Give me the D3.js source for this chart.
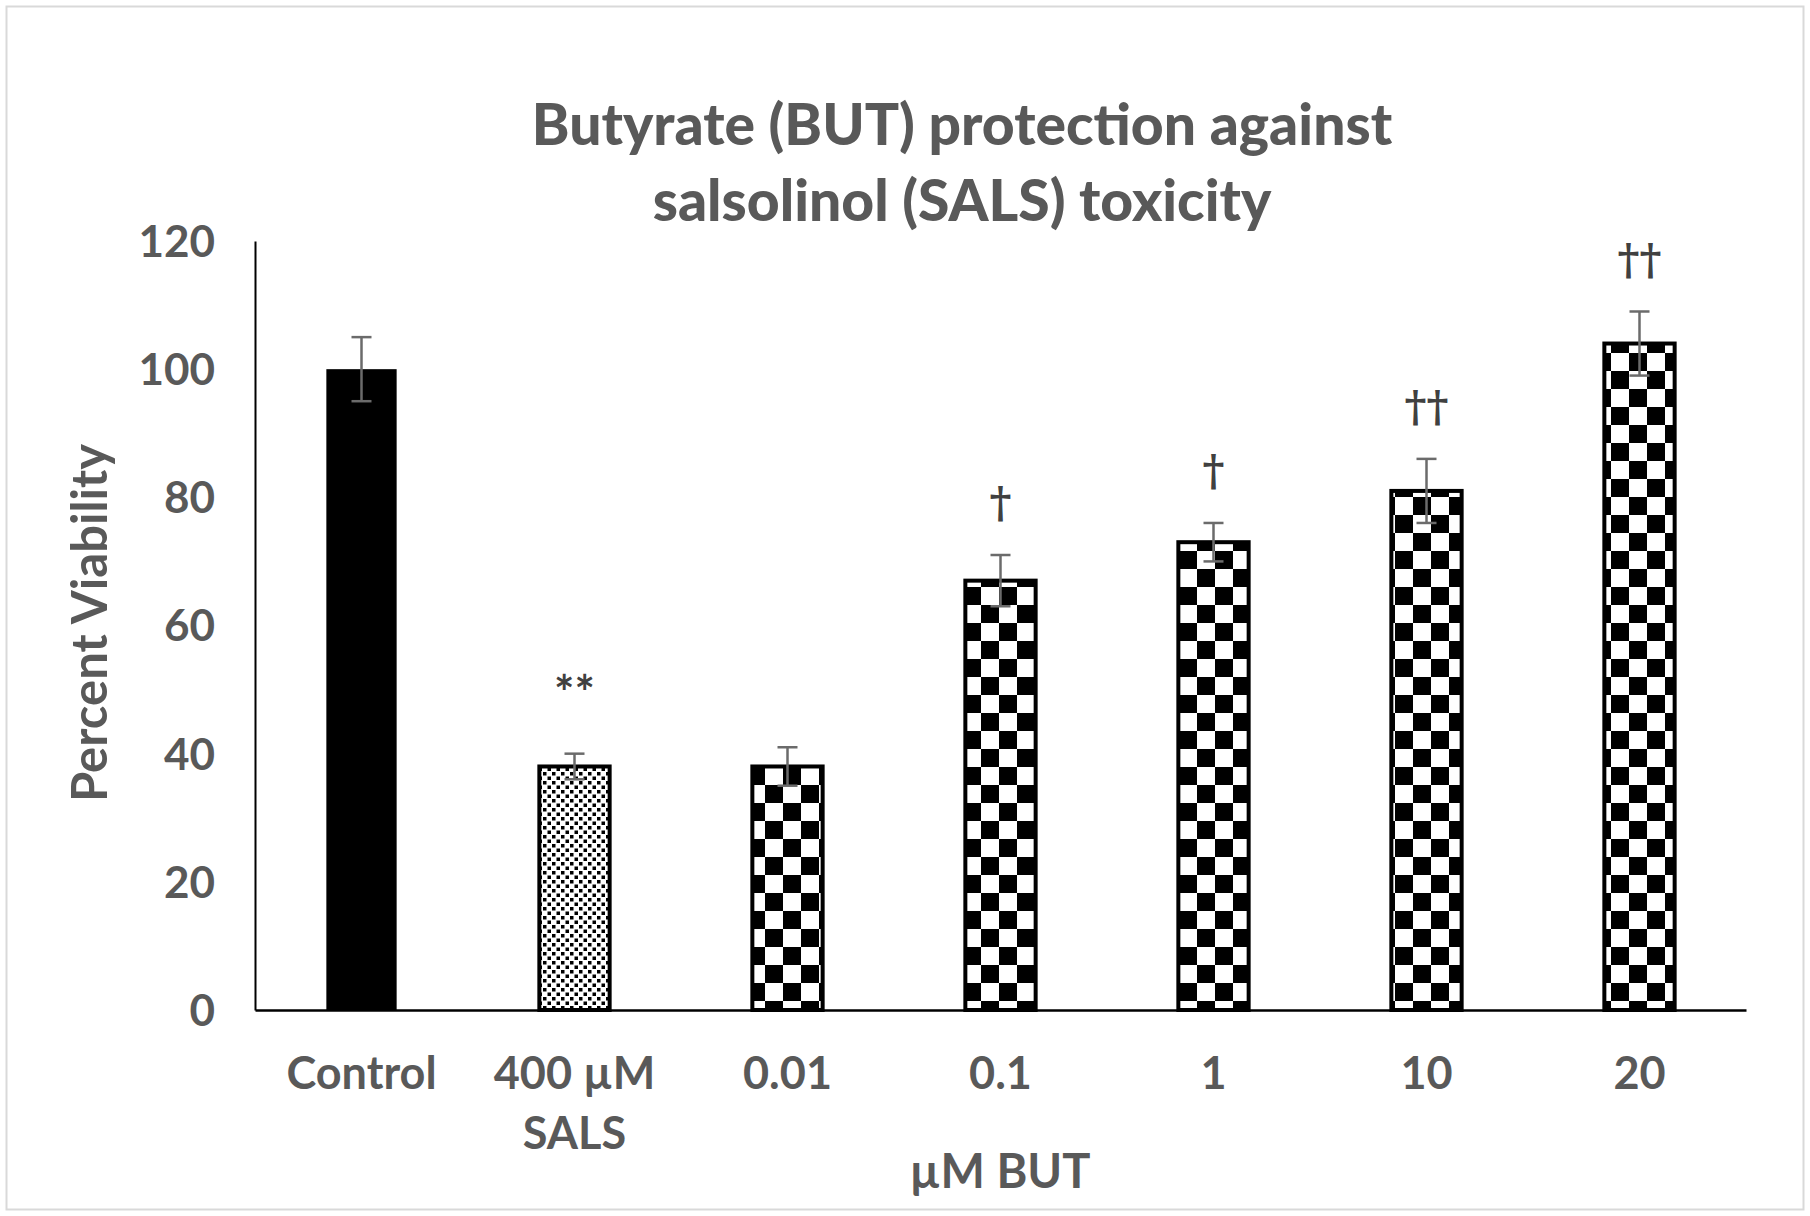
<!DOCTYPE html>
<html>
<head>
<meta charset="utf-8">
<script src="https://cdn.jsdelivr.net/npm/d3@7"></script>
<style>
  body { margin: 0; background: #fff; }
  text { font-family: Lato, "Open Sans", sans-serif; font-weight: bold; }
</style>
</head>
<body>
<svg id="chart" width="1810" height="1216"></svg>
<script>
// data
const categories = ["Control", "400 µM\nSALS", "0.01", "0.1", "1", "10", "20"];
const viability = [100, 38, 38, 67, 73, 81, 104];
const errors = [5, 2, 3, 4, 3, 5, 5];
const marks = ["", "**", "", "†", "†", "††", "††"];
const fills = ["solid", "small", "checker", "checker", "checker", "checker", "checker"];
const yTicks = [0, 20, 40, 60, 80, 100, 120];

const svg = d3.select("#chart");
const margin = { top: 241, right: 64, bottom: 206, left: 255 };
const width = 1810 - margin.left - margin.right;
const height = 1216 - margin.top - margin.bottom;

const defs = svg.append("defs");

// big checker board
const big = defs.append("pattern")
    .attr("id", "checker")
    .attr("patternUnits", "userSpaceOnUse")
    .attr("width", 36).attr("height", 36)
    .attr("x", 6).attr("y", 4);
big.append("rect").attr("width", 36).attr("height", 36).attr("fill", "#fff");
big.append("rect").attr("width", 18).attr("height", 18).attr("fill", "#000");
big.append("rect").attr("x", 18).attr("y", 18).attr("width", 18).attr("height", 18).attr("fill", "#000");

// small checker for SALS
const small = defs.append("pattern")
    .attr("id", "small")
    .attr("patternUnits", "userSpaceOnUse")
    .attr("width", 9).attr("height", 9);
small.append("rect").attr("width", 9).attr("height", 9).attr("fill", "#fff");
small.append("rect").attr("width", 3.5).attr("height", 3.5).attr("fill", "#000");
small.append("rect").attr("x", 4.5).attr("y", 4.5).attr("width", 3.5).attr("height", 3.5).attr("fill", "#000");

// outer frame
svg.append("rect")
    .attr("x", 6.5).attr("y", 6.5)
    .attr("width", 1797).attr("height", 1203)
    .attr("fill", "#fff")
    .attr("stroke", "#d9d9d9")
    .attr("stroke-width", 2);

const g = svg.append("g")
    .attr("transform", "translate(" + margin.left + "," + margin.top + ")");

const xScale = d3.scaleBand()
    .domain(categories)
    .range([0, width])
    .paddingInner(0.67)
    .paddingOuter(0.335);

const yScale = d3.scaleLinear()
    .domain([0, 120])
    .range([height, 0]);

// bars
g.selectAll(".bar")
    .data(categories)
    .enter().append("rect")
    .attr("class", "bar")
    .attr("x", d => xScale(d))
    .attr("y", (d, i) => yScale(viability[i]))
    .attr("width", xScale.bandwidth())
    .attr("height", (d, i) => height - yScale(viability[i]))
    .attr("fill", (d, i) => fills[i] === "solid" ? "#000" : "url(#" + fills[i] + ")")
    .attr("stroke", "#000")
    .attr("stroke-width", (d, i) => fills[i] === "solid" ? 0 : 4);

// error bars
const errG = g.selectAll(".err")
    .data(categories)
    .enter().append("g")
    .attr("class", "err")
    .attr("transform", d => "translate(" + (xScale(d) + xScale.bandwidth() / 2) + ",0)")
    .attr("stroke", "#6b6b6b")
    .attr("stroke-width", 2.5);

errG.append("line")
    .attr("y1", (d, i) => yScale(viability[i] - errors[i]))
    .attr("y2", (d, i) => yScale(viability[i] + errors[i]));
errG.append("line")
    .attr("x1", -10).attr("x2", 10)
    .attr("y1", (d, i) => yScale(viability[i] + errors[i]))
    .attr("y2", (d, i) => yScale(viability[i] + errors[i]));
errG.append("line")
    .attr("x1", -10).attr("x2", 10)
    .attr("y1", (d, i) => yScale(viability[i] - errors[i]))
    .attr("y2", (d, i) => yScale(viability[i] - errors[i]));

// significance marks
g.selectAll(".mark")
    .data(categories)
    .enter().append("text")
    .attr("class", "mark")
    .attr("x", d => xScale(d) + xScale.bandwidth() / 2)
    .attr("y", (d, i) => yScale(viability[i] + errors[i]) - (i === 1 ? 60 : 38))
    .attr("dy", (d, i) => i === 1 ? "0.35em" : 0)
    .attr("text-anchor", "middle")
    .attr("fill", "#404040")
    .style("font-family", (d, i) => i === 1 ? "Lato, sans-serif" : "'DejaVu Serif', serif")
    .style("font-weight", "bold")
    .style("font-size", (d, i) => i === 1 ? "48px" : "42px")
    .text((d, i) => marks[i]);

// y axis
const yAxis = g.append("g")
    .call(d3.axisLeft(yScale).tickValues(yTicks).tickSize(0).tickPadding(40));
yAxis.select(".domain").attr("stroke", "#000").attr("stroke-width", 2);
yAxis.selectAll("text")
    .attr("fill", "#595959")
    .style("font-size", "44px")
    .attr("dy", "0.35em");

// x axis
const xAxis = g.append("g")
    .attr("transform", "translate(0," + height + ")")
    .call(d3.axisBottom(xScale).tickSize(0).tickFormat(""));
xAxis.select(".domain").attr("stroke", "#000").attr("stroke-width", 2.5);

const xLabels = g.selectAll(".xlab")
    .data(categories)
    .enter().append("text")
    .attr("class", "xlab")
    .attr("x", d => xScale(d) + xScale.bandwidth() / 2)
    .attr("y", height + 79)
    .attr("text-anchor", "middle")
    .attr("fill", "#595959")
    .style("font-size", "45px");
xLabels.each(function(d) {
  const lines = d.split("\n");
  d3.select(this).selectAll("tspan")
      .data(lines)
      .enter().append("tspan")
      .attr("x", d3.select(this).attr("x"))
      .attr("dy", (l, j) => j === 0 ? 0 : 60)
      .text(l => l);
});

// axis titles
svg.append("text")
    .attr("x", 1000)
    .attr("y", 1188)
    .attr("text-anchor", "middle")
    .attr("fill", "#595959")
    .style("font-size", "47px")
    .text("µM BUT");

svg.append("text")
    .attr("transform", "translate(107,623) rotate(-90)")
    .attr("text-anchor", "middle")
    .attr("fill", "#595959")
    .style("font-size", "49px")
    .text("Percent Viability");

// title
const title = svg.append("text")
    .attr("x", 962)
    .attr("y", 145)
    .attr("text-anchor", "middle")
    .attr("fill", "#595959")
    .style("font-size", "57px")
    .style("font-weight", "900");
title.append("tspan").attr("x", 962).text("Butyrate (BUT) protection against");
title.append("tspan").attr("x", 962).attr("dy", 76).text("salsolinol (SALS) toxicity");
</script>
</body>
</html>
